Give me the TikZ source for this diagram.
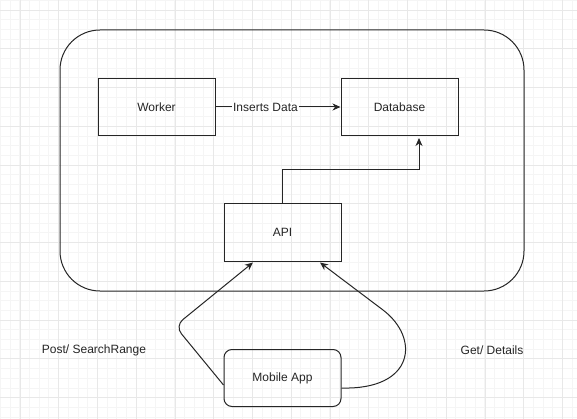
\documentclass[tikz,border=0pt]{standalone}
\usepackage{fontspec}
\setmainfont{Liberation Sans}
\usetikzlibrary{positioning,calc,arrows.meta}

\begin{document}
\begin{tikzpicture}[x=1pt,y=-1pt]
\tikzset{box/.style={draw=black!85,line width=1pt,minimum width=117pt,minimum height=57pt,inner sep=0pt,text=black!85},
  app/.style={box,rounded corners=8pt},
  lbl/.style={text=black!85,inner sep=1pt},
  link/.style={draw=black!85,line width=1pt,-{Stealth[length=8pt,width=7pt,inset=2.5pt]}}};
   \useasboundingbox (0,0) rectangle (577,419);
   \fill[white] (0,0) rectangle (577,419);
   % grid
   \foreach \i in {0,...,60} {
     \draw[black!4,line width=0.6pt] (0.3+9.6875*\i,0) -- ++(0,419);
     \draw[black!4,line width=0.6pt] (0,0.3+9.6875*\i) -- ++(577,0);
   }
   \foreach \i in {0,...,15} {
     \draw[black!9,line width=0.8pt] (20+38.75*\i,0) -- ++(0,419);
     \draw[black!9,line width=0.8pt] (0,10+38.75*\i) -- ++(577,0);
   }

   \fontsize{12}{14}\selectfont
   \node[draw=black!85,line width=1pt,rounded corners=40pt,minimum width=464pt,minimum height=261pt] at (292,160.5) (backend) {};
   \node[box] at (156.5,107) (worker) {Worker};
   \node[box] at (399.5,107) (db) {Database};
   \node[box] at (282.5,232.5) (api) {API};
   \node[app] at (282.5,378) (mobile) {Mobile App};
   \node[lbl] at (94,350) (post) {Post/ SearchRange};
   \node[lbl] at (492,350) (get) {Get/ Details};

   \draw[link] (worker) -- (db) node[lbl,pos=0.4,fill=white] {Inserts Data};
   \draw[link] (api.north) -- ++(0,-34) -| ([xshift=19.5pt,yshift=-2pt]db.south);
   \draw[link,rounded corners=10pt] ([yshift=-7pt]mobile.west) -- (175,326) -- ([xshift=-29.5pt,yshift=-1pt]api.south);
   \draw[link] ([yshift=-10pt]mobile.east) .. controls (415,390) and (420,338) .. (383,310) -- ([xshift=37.5pt,yshift=-1pt]api.south);
 \end{tikzpicture}
\end{document}
